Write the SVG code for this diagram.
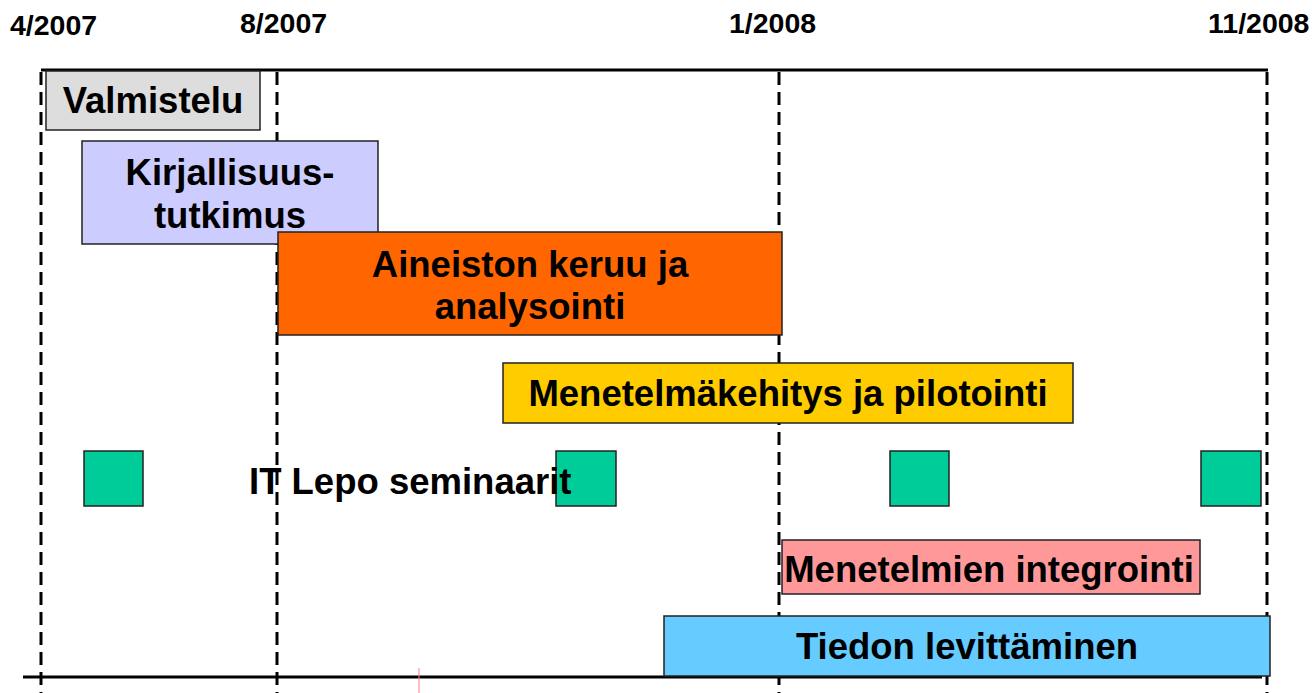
<svg xmlns="http://www.w3.org/2000/svg" width="1312" height="693" viewBox="0 0 1312 693">
<style>
text{font-family:"Liberation Sans",Arial,sans-serif;font-weight:bold;fill:#000}
.d{font-size:28.5px}
.l{font-size:36.5px;text-anchor:middle}
.box{stroke:#222;stroke-width:1.5}
.dash{stroke:#000;stroke-width:3;stroke-dasharray:13 7;fill:none}
.axis{stroke:#000;stroke-width:3;fill:none}
.sq{fill:#00CC99;stroke:#222;stroke-width:1.5}
</style>
<rect width="1312" height="693" fill="#fff"/>
<g id="dates">
<text class="d" x="10" y="35">4/2007</text>
<text class="d" x="240" y="33">8/2007</text>
<text class="d" x="729" y="33">1/2008</text>
<text class="d" x="1208" y="33">11/2008</text>
</g>
<g id="connectors">
<line class="axis" x1="41" y1="70" x2="1268" y2="70"/>
<line class="axis" x1="23" y1="677" x2="1262" y2="677"/>
<line class="dash" x1="41" y1="72" x2="41" y2="693"/>
<line class="dash" x1="277" y1="72" x2="277" y2="693"/>
<line class="dash" x1="779" y1="72" x2="779" y2="693"/>
<line class="dash" x1="1267" y1="72" x2="1267" y2="693"/>
<line x1="419" y1="668" x2="419" y2="693" stroke="#FF8080" stroke-width="1"/>
</g>
<g id="valmistelu">
<rect class="box" x="46" y="71" width="214" height="59" fill="#DDDDDD"/>
<text class="l" x="153" y="113">Valmistelu</text>
</g>
<g id="kirjallisuus">
<rect class="box" x="82" y="141" width="296" height="103" fill="#CCCCFF"/>
<text class="l" x="230" y="185">Kirjallisuus-</text>
<text class="l" x="230" y="228">tutkimus</text>
</g>
<g id="aineisto">
<rect class="box" x="278" y="232" width="504" height="103" fill="#FF6600"/>
<text class="l" x="530" y="277">Aineiston keruu ja</text>
<text class="l" x="530" y="319">analysointi</text>
</g>
<g id="menetelmakehitys">
<rect class="box" x="503" y="363" width="570" height="60" fill="#FFCC00"/>
<text class="l" x="788" y="406">Menetelmäkehitys ja pilotointi</text>
</g>
<g id="seminaarit">
<rect class="sq" x="84" y="451" width="59" height="55"/>
<rect class="sq" x="556" y="451" width="60" height="55"/>
<rect class="sq" x="890" y="451" width="59" height="55"/>
<rect class="sq" x="1201" y="451" width="60" height="55"/>
<text x="249" y="494" style="font-size:36.5px">IT Lepo seminaarit</text>
</g>
<g id="integrointi">
<rect class="box" x="782" y="540" width="418" height="54" fill="#FF9999"/>
<text class="l" x="989" y="582">Menetelmien integrointi</text>
</g>
<g id="levittaminen">
<rect class="box" x="664" y="616" width="606" height="60" fill="#66CCFF"/>
<text class="l" x="967" y="659">Tiedon levittäminen</text>
</g>
</svg>
